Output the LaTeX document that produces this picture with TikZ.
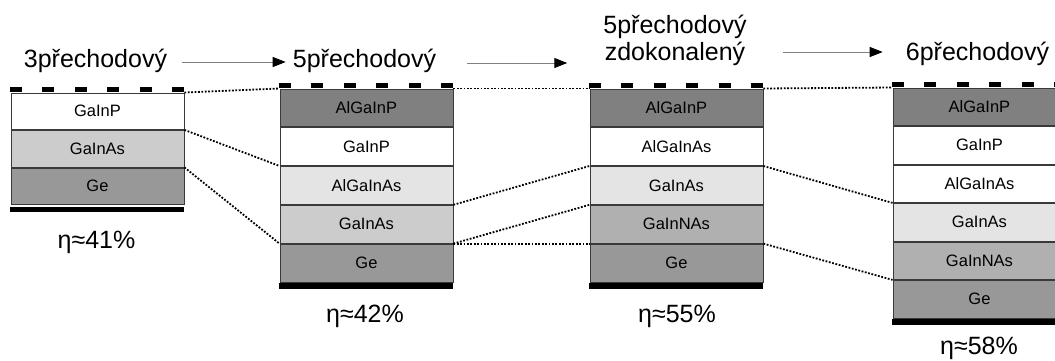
\documentclass[tikz,border=0pt]{standalone}
\usepackage{fontspec}
\setmainfont{Liberation Sans}
\usetikzlibrary{arrows.meta}
\definecolor{cdark}{HTML}{808080}
\definecolor{cge}{HTML}{989898}
\definecolor{clight}{HTML}{E4E4E4}
\definecolor{cmid}{HTML}{CCCCCC}
\definecolor{cgn}{HTML}{B0B0B0}
\definecolor{cedge}{HTML}{3A3A3A}
\definecolor{carr}{HTML}{808080}
\tikzset{
  layer/.style={draw=cedge, line width=0.9pt, anchor=north west, minimum width=173pt,
    inner sep=0pt, font=\fontsize{16.5}{18}\selectfont},
  title/.style={font=\fontsize{25}{27}\selectfont, anchor=base, inner sep=0pt, align=center},
  eff/.style={font=\fontsize{25}{28}\selectfont, anchor=base, inner sep=0pt},
  contact/.style={fill=black},
  bar/.style={fill=black},
  link/.style={line width=1.8pt, black, dash pattern=on 1.8pt off 1.6pt},
  arr/.style={draw=carr, line width=1pt, -{Triangle[length=13pt,width=10pt,color=black]}}
}
\newcommand{\contacts}[3]{% x0, ytop, width
  \foreach \k in {0,...,5}{
    \fill[contact] ({#1+\k*(#3-12)/5},{#2}) rectangle ++(12,-5.5);
  }
}
\begin{document}
\begin{tikzpicture}[x=1pt,y=-1pt]
\clip (0,0) rectangle (1055,360);
\fill[white] (0,0) rectangle (1055,360);

% ---------- titles ----------
\node[title] (t1) at (95.5,67) {3přechodový};
\node[title] (t2) at (364.5,67) {5přechodový};
\node[title] (t3) at (675,60) {5přechodový\\zdokonalený};
\node[title] (t4) at (977.5,60) {6přechodový};

\draw[arr] ([xshift=15pt,yshift=5pt]t1.base east) -- ([xshift=-7pt,yshift=5pt]t2.base west);
\draw[arr] ([xshift=31pt,yshift=4pt]t2.base east) -- ([xshift=131pt,yshift=4pt]t2.base east);
\draw[arr] ([xshift=-123pt,yshift=8pt]t4.base west) -- ([xshift=-23pt,yshift=8pt]t4.base west);

% ---------- stack 1 ----------
\node[layer, fill=white, minimum height=36.5pt] (a1) at (10.5,92.5) {GaInP};
\node[layer, fill=cmid,  minimum height=36.5pt] (a2) at (10.5,130) {GaInAs};
\node[layer, fill=cge,   minimum height=36.5pt] (a3) at (10.5,167.5) {Ge};
\contacts{10}{92}{174}
\fill[bar] (10,206.5) rectangle (184,212);
\node[eff] (e1) at (96.5,248) {η≈41\%};

% ---------- stack 2 ----------
\node[layer, fill=cdark,  minimum height=37.8pt] (b1) at (279.5,88.5) {AlGaInP};
\node[layer, fill=white,  minimum height=37.8pt] (b2) at (279.5,127.3) {GaInP};
\node[layer, fill=clight, minimum height=37.8pt] (b3) at (279.5,166.1) {AlGaInAs};
\node[layer, fill=cmid,   minimum height=37.8pt] (b4) at (279.5,204.9) {GaInAs};
\node[layer, fill=cge,    minimum height=37.8pt] (b5) at (279.5,243.7) {Ge};
\contacts{279}{88}{174}
\fill[bar] (279,283) rectangle (453,288.5);
\node[eff] (e2) at (365,322) {η≈42\%};

% ---------- stack 3 ----------
\node[layer, fill=cdark,  minimum height=37.8pt] (c1) at (589.5,88.5) {AlGaInP};
\node[layer, fill=white,  minimum height=37.8pt] (c2) at (589.5,127.3) {AlGaInAs};
\node[layer, fill=clight, minimum height=37.8pt] (c3) at (589.5,166.1) {GaInAs};
\node[layer, fill=cgn,    minimum height=37.8pt] (c4) at (589.5,204.9) {GaInNAs};
\node[layer, fill=cge,    minimum height=37.8pt] (c5) at (589.5,243.7) {Ge};
\contacts{589}{88}{174}
\fill[bar] (589,283) rectangle (763,288.5);
\node[eff] (e3) at (677,322) {η≈55\%};

% ---------- stack 4 ----------
\node[layer, fill=cdark,  minimum height=37.5pt] (d1) at (892.5,87.5) {AlGaInP};
\node[layer, fill=white,  minimum height=37.5pt] (d2) at (892.5,126) {GaInP};
\node[layer, fill=white,  minimum height=37.5pt] (d3) at (892.5,164.5) {AlGaInAs};
\node[layer, fill=clight, minimum height=37.5pt] (d4) at (892.5,203) {GaInAs};
\node[layer, fill=cgn,    minimum height=37.5pt] (d5) at (892.5,241.5) {GaInNAs};
\node[layer, fill=cge,    minimum height=37.5pt] (d6) at (892.5,280) {Ge};
\contacts{892}{87}{174}
\fill[bar] (892,319) rectangle (1066,325);
\node[eff] (e4) at (979,354) {η≈58\%};

% ---------- dotted links ----------
\draw[link] (a1.north east) -- (b1.north west);
\draw[link] (a1.south east) -- (b2.south west);
\draw[link] (a2.south east) -- (b4.south west);

\draw[link] (b1.north east) -- (c1.north west);
\draw[link] (b3.south east) -- (c2.south west);
\draw[link] (b4.south east) -- (c3.south west);
\draw[link] (b4.south east) -- (c4.south west);

\draw[link] (c1.north east) -- (d1.north west);
\draw[link] (c2.south east) -- (d3.south west);
\draw[link] (c4.south east) -- (d5.south west);
\end{tikzpicture}
\end{document}
